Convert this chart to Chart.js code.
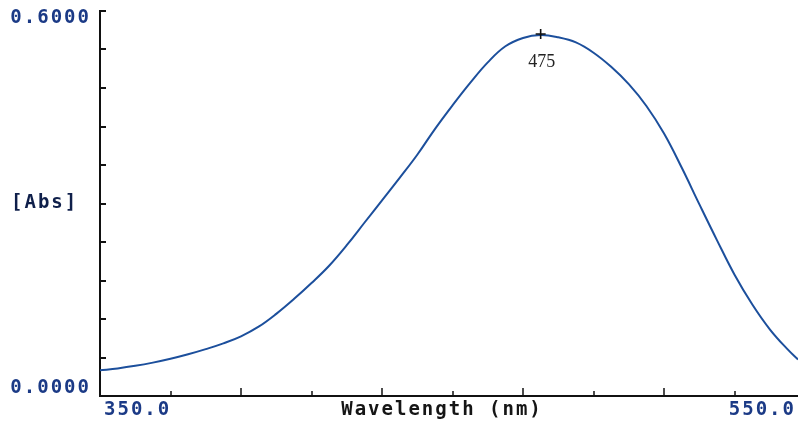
<!DOCTYPE html>
<html>
<head>
<meta charset="utf-8">
<script src="https://cdn.jsdelivr.net/npm/chart.js@4/dist/chart.umd.min.js"></script>
<style>
  html, body { margin: 0; padding: 0; background: #fff; }
  #wrap { width: 798px; height: 423px; }
</style>
</head>
<body>
<div id="wrap"><canvas id="spectrum" width="798" height="423"></canvas></div>
<script>
// absorbance spectrum, wavelength in nm
const wavelengths = [350, 355, 360, 365, 370, 375, 380, 385, 390, 395,
  400, 405, 410, 415, 420, 425, 430, 435, 440, 445,
  450, 455, 460, 465, 470, 475, 480, 485, 490, 495,
  500, 505, 510, 515, 520, 525, 530, 535, 540, 545, 548];
const absorbance = [0.040, 0.043, 0.047, 0.052, 0.058, 0.065, 0.073, 0.082, 0.093, 0.108,
  0.128, 0.151, 0.176, 0.203, 0.235, 0.270, 0.305, 0.340, 0.376, 0.416,
  0.453, 0.488, 0.520, 0.545, 0.558, 0.5625, 0.559, 0.551, 0.535, 0.513,
  0.486, 0.452, 0.409, 0.356, 0.299, 0.243, 0.189, 0.143, 0.104, 0.073, 0.057];

const peakWavelength = 475;
const yTicks = [0.06, 0.12, 0.18, 0.24, 0.30, 0.36, 0.42, 0.48, 0.54, 0.60];
const xTicks = [370, 390, 410, 430, 450, 470, 490, 510, 530];
const xMajorTicks = [390, 430, 470, 510];
const yLabels = ["0.6000", "0.0000"];
const xLabels = ["350.0", "550.0"];

const monoFont = "bold 19px 'DejaVu Sans Mono'";

// inward tick marks, end labels and the peak marker
const decorations = {
  id: "decorations",
  afterDraw(chart) {
    const ctx = chart.ctx;
    const xs = chart.scales.x;
    const ys = chart.scales.y;
    const area = chart.chartArea;
    ctx.save();
    ctx.strokeStyle = "#111";
    ctx.lineWidth = 2;
    yTicks.forEach(v => {
      const py = Math.round(ys.getPixelForValue(v));
      ctx.beginPath();
      ctx.moveTo(area.left, py);
      ctx.lineTo(area.left + 6, py);
      ctx.stroke();
    });
    ctx.lineWidth = 1.5;
    xTicks.forEach(v => {
      const px = Math.round(xs.getPixelForValue(v));
      const len = xMajorTicks.includes(v) ? 8 : 5;
      ctx.beginPath();
      ctx.moveTo(px, area.bottom);
      ctx.lineTo(px, area.bottom - len);
      ctx.stroke();
    });

    ctx.font = monoFont;
    ctx.letterSpacing = "2px";
    ctx.textBaseline = "middle";
    ctx.fillStyle = "#1b3a86";
    ctx.textAlign = "right";
    ctx.fillText(yLabels[0], 91, ys.getPixelForValue(0.6) + 7);
    ctx.fillText(yLabels[1], 91, ys.getPixelForValue(0) - 8);
    ctx.fillStyle = "#0f1f4a";
    ctx.textAlign = "left";
    ctx.fillText("[Abs]", 11, 203);
    ctx.fillStyle = "#1b3a86";
    ctx.fillText(xLabels[0], 104, 410);
    ctx.textAlign = "right";
    ctx.fillText(xLabels[1], 796, 410);
    ctx.fillStyle = "#151515";
    ctx.textAlign = "center";
    ctx.fillText("Wavelength (nm)", 442, 410);

    // peak marker
    const i = wavelengths.indexOf(peakWavelength);
    const px = xs.getPixelForValue(peakWavelength);
    const py = ys.getPixelForValue(absorbance[i]);
    ctx.strokeStyle = "#111";
    ctx.lineWidth = 1.6;
    ctx.beginPath();
    ctx.moveTo(px - 5, py - 1);
    ctx.lineTo(px + 5, py - 1);
    ctx.moveTo(px, py - 6);
    ctx.lineTo(px, py + 4);
    ctx.stroke();
    ctx.letterSpacing = "0px";
    ctx.font = "18px 'Liberation Serif'";
    ctx.fillStyle = "#222";
    ctx.textAlign = "center";
    ctx.fillText(String(peakWavelength), px + 1, py + 27);
    ctx.restore();
  }
};

new Chart(document.getElementById("spectrum"), {
  type: "line",
  data: {
    datasets: [{
      data: wavelengths.map((w, i) => ({ x: w, y: absorbance[i] })),
      borderColor: "#1c4f9c",
      borderWidth: 2,
      pointRadius: 0,
      tension: 0.4,
      fill: false
    }]
  },
  options: {
    responsive: false,
    animation: false,
    layout: { padding: { left: 100, top: 11, right: 0, bottom: 27 } },
    plugins: { legend: { display: false }, tooltip: { enabled: false } },
    scales: {
      x: {
        type: "linear",
        min: 350,
        max: 548,
        ticks: { display: false },
        grid: { display: false, drawTicks: false },
        border: { display: true, color: "#111", width: 2 }
      },
      y: {
        min: 0,
        max: 0.6,
        ticks: { display: false },
        grid: { display: false, drawTicks: false },
        border: { display: true, color: "#111", width: 2 }
      }
    }
  },
  plugins: [decorations]
});
</script>
</body>
</html>
